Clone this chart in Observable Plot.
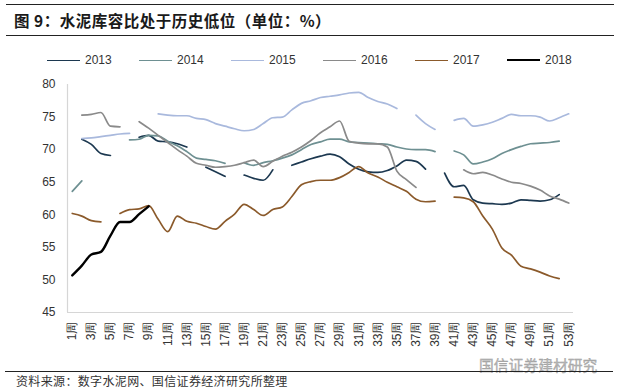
<!DOCTYPE html>
<html>
<head>
<meta charset="utf-8">
<script src="https://cdn.jsdelivr.net/npm/d3@7"></script>
<script src="https://cdn.jsdelivr.net/npm/@observablehq/plot@0.6"></script>
<style>
  html, body { margin: 0; padding: 0; background: #fff; }
  #wrap { position: relative; width: 618px; height: 392px; overflow: hidden; font-family: "Liberation Sans", Arial, sans-serif; }
  .rule { position: absolute; height: 0; border-top: 1.5px solid #222; }
  #title { position: absolute; left: 14px; top: 11px; font-family: "Noto Sans CJK SC", sans-serif; font-weight: bold; font-size: 15.5px; line-height: 18px; color: #1a1a1a; letter-spacing: 0.5px; white-space: nowrap; }
  #legend { position: absolute; left: 47px; top: 53px; display: flex; }
  .item { width: 92px; display: flex; align-items: center; font-size: 12px; color: #333; }
  .sw { width: 33px; height: 0; margin-right: 5px; }
  #chart { position: absolute; left: 0; top: 40px; }
  #source { position: absolute; left: 16px; top: 373px; font-family: "Noto Sans CJK SC", sans-serif; font-size: 12px; line-height: 15px; color: #333; letter-spacing: 0.35px; white-space: nowrap; }
  #mark { position: absolute; left: 479px; top: 356px; font-family: "Noto Sans CJK SC", sans-serif; font-size: 14.8px; line-height: 18px; color: #b5b5b5; white-space: nowrap; -webkit-text-stroke: 0.3px #999; }
</style>
</head>
<body>
<div id="wrap">
  <div class="rule" style="left:6px; width:608px; top:4px;"></div>
  <div id="title">图 9：水泥库容比处于历史低位（单位：%）</div>
  <div class="rule" style="left:6px; width:608px; top:35px;"></div>
  <div id="legend"></div>
  <div id="chart"></div>
  <div id="mark">国信证券建材研究</div>
  <div class="rule" style="left:5px; width:608px; top:371px;"></div>
  <div id="source">资料来源：数字水泥网、国信证券经济研究所整理</div>
</div>
<script>
// ---- data ----
const weeks = d3.range(1, 54);               // 1..53周
const xTicks = d3.range(1, 54, 2);           // odd week labels
const yTicks = [45, 50, 55, 60, 65, 70, 75, 80];
const years = ["2013", "2014", "2015", "2016", "2017", "2018"];
const colors = ["#1c3850", "#6e9092", "#a9b9dd", "#8a8a8a", "#8b5a2b", "#000000"];
const widths = [1.7, 1.7, 1.7, 1.7, 1.7, 2.4];

const s2013 = [null,71.6,70.8,69.4,69.1,null,null,71.9,72.2,71.3,71.2,70.9,70.4,null,67.3,66.6,65.9,null,66.1,65.6,65.3,66.9,null,67.6,68.1,68.6,69.0,69.3,68.9,67.8,67.0,66.6,66.5,66.8,67.5,68.4,68.2,67.0,null,66.4,64.3,64.5,62.3,61.8,61.7,61.6,61.8,62.3,62.2,62.1,62.3,63.1,null];
const s2014 = [63.6,65.2,null,null,null,null,71.5,71.6,72.2,72.1,71.3,70.6,69.7,68.7,68.5,68.3,67.9,null,68.0,67.6,68.0,68.3,68.7,69.2,70.0,70.8,71.2,71.6,71.6,71.2,71.1,71.0,70.9,70.8,70.4,70.1,70.0,70.0,69.7,null,69.8,69.2,67.8,68.1,68.6,69.4,70.0,70.5,70.9,71.0,71.1,71.3,null];
const s2015 = [null,71.7,71.8,72.0,72.2,72.4,72.5,null,null,75.5,75.3,75.2,75.2,74.8,74.6,74.0,73.6,73.2,72.9,73.1,74.0,74.9,75.0,76.1,77.1,77.5,78.0,78.2,78.4,78.7,78.8,78.0,77.4,77.0,76.3,null,75.3,74.0,73.1,null,74.5,74.8,73.6,73.8,74.2,74.8,75.4,75.2,75.2,75.0,74.4,74.9,75.5];
const s2016 = [null,75.3,75.4,75.7,73.6,73.5,null,74.3,73.3,72.2,71.1,70.0,69.0,67.9,67.6,67.3,67.4,67.6,68.0,68.4,67.4,68.2,69.0,69.6,70.4,71.4,72.6,73.5,74.4,71.3,71.0,70.9,70.9,70.4,66.7,65.4,64.2,null,null,null,null,66.9,66.3,66.5,66.1,65.5,65.0,64.8,64.4,63.8,62.9,62.4,61.8];
const s2017 = [60.2,59.8,59.1,58.9,null,60.2,60.8,60.9,61.4,59.3,57.4,59.8,59.0,58.7,58.2,57.8,59.0,60.1,61.6,60.8,59.9,60.8,61.2,62.8,64.6,65.1,65.3,65.3,65.7,66.5,67.4,66.4,65.8,65.0,64.3,63.6,62.4,62.0,62.1,null,62.7,62.6,62.0,59.8,57.8,54.9,53.8,52.1,51.7,51.2,50.6,50.2,null];
const s2018 = [50.7,52.2,53.9,54.3,56.8,58.9,58.9,60.1,61.3,null,null,null,null,null,null,null,null,null,null,null,null,null,null,null,null,null,null,null,null,null,null,null,null,null,null,null,null,null,null,null,null,null,null,null,null,null,null,null,null,null,null,null,null];
const series = [s2013, s2014, s2015, s2016, s2017, s2018];

// ---- legend ----
const legend = document.getElementById("legend");
years.forEach((yr, i) => {
  const it = document.createElement("div");
  it.className = "item";
  it.innerHTML = `<span class="sw" style="border-top:${i === 5 ? 2.4 : 1.9}px solid ${colors[i]}"></span><span>${yr}</span>`;
  legend.appendChild(it);
});

// ---- chart ----
const lineMarks = series.map((s, i) =>
  Plot.line(weeks, {
    x: d => d,
    y: (d, j) => s[j],
    stroke: colors[i],
    strokeWidth: widths[i],
    curve: "monotone-x"
  })
);

const chart = Plot.plot({
  width: 618,
  height: 320,
  marginLeft: 67,
  marginRight: 45,
  marginTop: 44,
  marginBottom: 48,
  style: { fontFamily: "Liberation Sans, Arial, sans-serif", fontSize: "12px", color: "#333", background: "transparent" },
  x: {
    domain: [weeks[0] - 0.5, weeks[weeks.length - 1] + 0.5],
    ticks: xTicks,
    tickFormat: d => d + "周",
    tickRotate: -90,
    tickSize: 0,
    tickPadding: 9,
    label: null
  },
  y: {
    domain: [yTicks[0], yTicks[yTicks.length - 1]],
    ticks: yTicks,
    tickSize: 0,
    tickPadding: 12,
    label: null
  },
  marks: [
    Plot.ruleY([yTicks[0]], { stroke: "#d6d6d6", strokeWidth: 1.2 }),
    Plot.ruleX([weeks[0] - 0.5], { stroke: "#d6d6d6", strokeWidth: 1.2 }),
    ...lineMarks
  ]
});
document.getElementById("chart").appendChild(chart);
</script>
</body>
</html>
